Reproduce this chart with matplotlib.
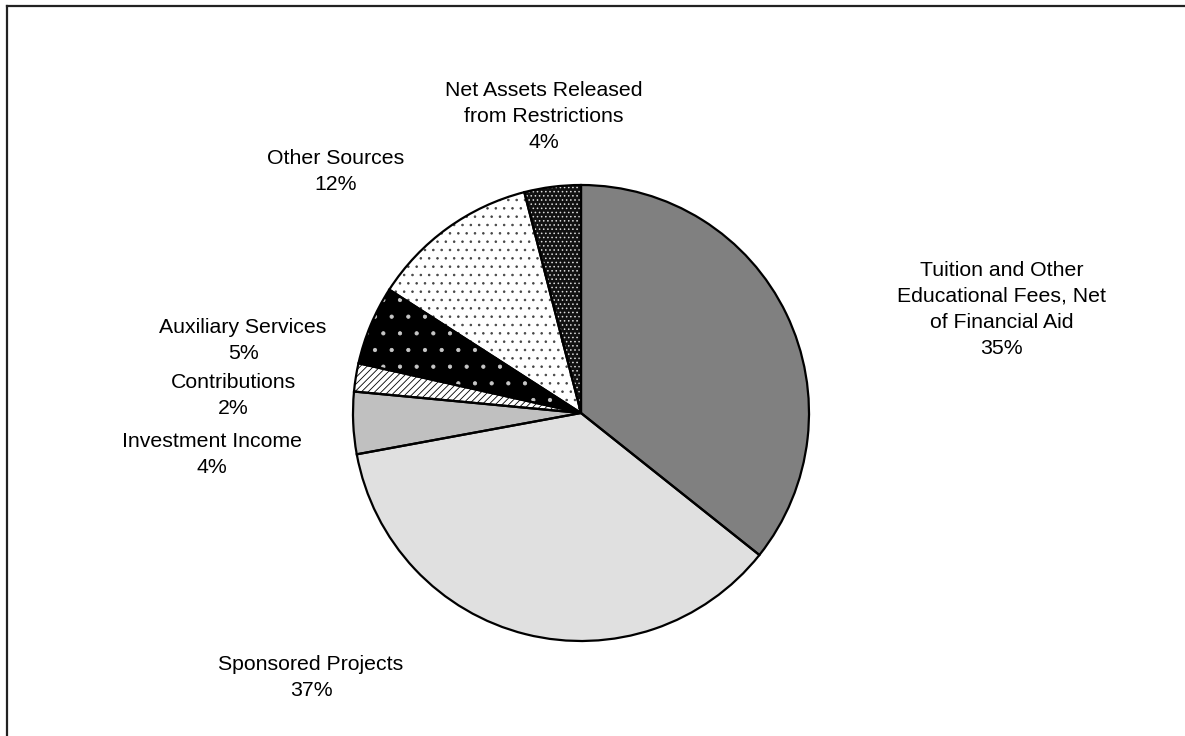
import matplotlib
matplotlib.use("Agg")
import matplotlib.pyplot as plt
from matplotlib.lines import Line2D

plt.rcParams['font.family'] = ['Liberation Sans', 'DejaVu Sans']
plt.rcParams['hatch.linewidth'] = 0.6

# revenue sources, clockwise from 12 o'clock
sources = [
    "Tuition and Other\nEducational Fees, Net\nof Financial Aid",
    "Sponsored Projects",
    "Investment Income",
    "Contributions",
    "Auxiliary Services",
    "Other Sources",
    "Net Assets Released\nfrom Restrictions",
]
shares = [35.7, 36.4, 4.4, 2.0, 5.6, 11.9, 4.0]
pct_labels = ["35%", "37%", "4%", "2%", "5%", "12%", "4%"]

fills = ["#808080", "#e0e0e0", "#c0c0c0", "#ffffff", "#000000", "#ffffff", "#111111"]
hatches = [None, None, None, "/////", ".", "..", "...."]
hatch_cols = ["#808080", "#e0e0e0", "#c0c0c0", "#000000", "#c8c8c8", "#444444", "#dddddd"]

# label centres in pie-radius units
label_xy = [(1.846, 0.454), (-1.184, -1.162), (-1.618, -0.184), (-1.526, 0.075),
            (-1.482, 0.320), (-1.075, 1.061), (-0.162, 1.300)]

W, H = 1185, 736
cx, cy, r_px = 581, 413, 228

fig = plt.figure(figsize=(W / 100, H / 100), dpi=100)
ax = fig.add_axes([0, 0, 1, 1])

wedges, _ = ax.pie(shares, startangle=90, counterclock=False, radius=1,
                   colors=fills, wedgeprops=dict(linewidth=0))
for w, h, hc in zip(wedges, hatches, hatch_cols):
    w.set_edgecolor(hc)
    w.set_linewidth(0)
    if h:
        w.set_hatch(h)

# outlines on top
ax.pie(shares, startangle=90, counterclock=False, radius=1,
       wedgeprops=dict(fill=False, edgecolor="black", linewidth=1.6))

for name, pct, (x, y) in zip(sources, pct_labels, label_xy):
    ax.text(x, y, f"{name}\n{pct}", ha="center", va="center",
            multialignment="center", fontsize=15.3, linespacing=1.47)

ax.set_xlim(-cx / r_px, (W - cx) / r_px)
ax.set_ylim((cy - H) / r_px, cy / r_px)
ax.set_aspect("auto")
ax.axis("off")

# frame (top and left edges only visible)
fig.add_artist(Line2D([6.5 / W, 6.5 / W], [0, 1 - 5.5 / H], transform=fig.transFigure,
                      color="#222222", linewidth=1.6))
fig.add_artist(Line2D([6.5 / W, 1], [1 - 5.5 / H, 1 - 5.5 / H], transform=fig.transFigure,
                      color="#222222", linewidth=1.6))

fig.savefig("out.png", dpi=100)
